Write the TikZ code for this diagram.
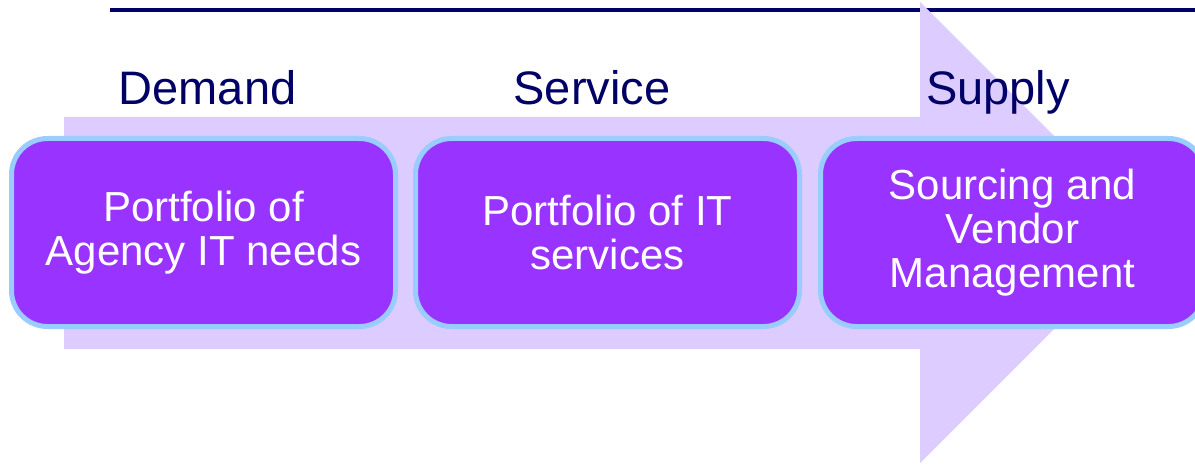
\documentclass[tikz,border=0pt]{standalone}
\usepackage{fontspec}
\setmainfont{Liberation Sans}
\usetikzlibrary{positioning}
\definecolor{navyc}{HTML}{000066}
\definecolor{lilac}{HTML}{DDCCFF}
\definecolor{boxc}{HTML}{9933FF}
\definecolor{edgec}{HTML}{99CCFF}
\tikzset{
  stage/.style={draw=edgec,line width=2.5pt,fill=boxc,rounded corners=18pt,minimum width=192pt,minimum height=94pt,align=center,text=white,inner sep=0pt,font=\fontsize{21}{22}\selectfont},
  lbl/.style={text=navyc,anchor=base,font=\fontsize{23.5}{26}\selectfont}
}
\begin{document}
\begin{tikzpicture}[x=0.5pt,y=-0.5pt]
\clip (0,0) rectangle (1195,465);
\draw[navyc,line width=2pt] (110,10) -- (1195,10);
\fill[lilac] (64,117) -- (920,117) -- (920,2) -- (1150.5,232.5) -- (920,463) -- (920,349) -- (64,349) -- cycle;
\node[stage] (dem) at (203.5,232.5) {Portfolio of\\Agency IT needs};
\node[stage,right=7.5pt of dem] (serv) {Portfolio of IT\\services};
\node[stage,right=8pt of serv] (sup) {Sourcing and\\Vendor\\Management};
\node[lbl] (demlbl) at (207.5,105) {Demand};
\node[lbl] (servlbl) at (592,105) {Service};
\node[lbl] (suplbl) at (998,105) {Supply};
\end{tikzpicture}
\end{document}
